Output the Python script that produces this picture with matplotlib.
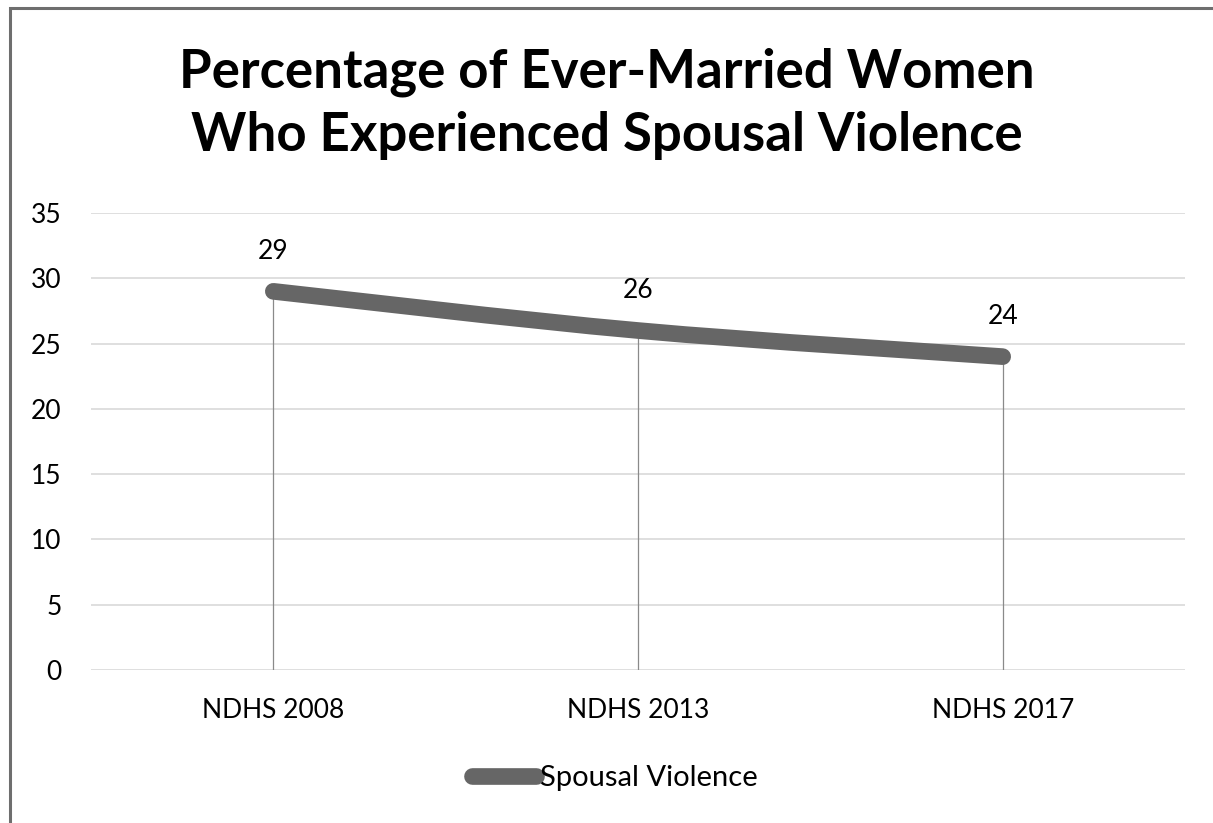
import matplotlib
matplotlib.use("Agg")
import matplotlib.pyplot as plt
from matplotlib.path import Path
from matplotlib.patches import PathPatch, Rectangle
from matplotlib.lines import Line2D
import numpy as np

categories = ["NDHS 2008", "NDHS 2013", "NDHS 2017"]
values = [29, 26, 24]
series_name = "Spousal Violence"
title = "Percentage of Ever-Married Women\nWho Experienced Spousal Violence"
yticks = [0, 5, 10, 15, 20, 25, 30, 35]

W, H = 1213, 823
fig = plt.figure(figsize=(W / 100, H / 100), dpi=100)
fig.patch.set_facecolor("white")
plt.rcParams['font.family'] = ['Lato', 'DejaVu Sans']

# chart border (only top and left visible)
fig.add_artist(Rectangle((9.5 / W, -0.05), 1.2, 1 - 7.5 / H + 0.05, transform=fig.transFigure,
                         fill=False, edgecolor="#6e6e6e", linewidth=2.2))

ax = fig.add_axes([91 / W, 1 - 670 / H, (1185 - 91) / W, (670 - 213) / H])
x = np.arange(len(categories))
ax.set_xlim(-0.5, len(categories) - 0.5)
ax.set_ylim(0, 35)
ax.set_yticks(yticks)
ax.set_xticks(x)
ax.set_xticklabels(categories, fontsize=19)
ax.tick_params(axis='y', labelsize=19, length=0, pad=21)
ax.tick_params(axis='x', length=0, pad=20)
for s in ax.spines.values():
    s.set_visible(False)
ax.grid(axis='y', color="#d9d9d9", linewidth=1.2)
ax.set_axisbelow(True)

# drop lines
for xi, v in zip(x, values):
    ax.plot([xi, xi], [0, v], color="#8a8a8a", linewidth=0.9, zorder=2)

# smoothed line (Catmull-Rom style bezier through data points)
pts = np.column_stack([x, values]).astype(float)
verts = [tuple(pts[0])]
codes = [Path.MOVETO]
t = 1 / 6
for i in range(len(pts) - 1):
    p0 = pts[i - 1] if i > 0 else pts[i]
    p1 = pts[i]
    p2 = pts[i + 1]
    p3 = pts[i + 2] if i + 2 < len(pts) else pts[i + 1]
    c1 = p1 + (p2 - p0) * t
    c2 = p2 - (p3 - p1) * t
    verts += [tuple(c1), tuple(c2), tuple(p2)]
    codes += [Path.CURVE4] * 3
patch = PathPatch(Path(verts, codes), facecolor="none", edgecolor="#666666",
                  linewidth=12, capstyle="round", joinstyle="round", zorder=3)
ax.add_patch(patch)

for xi, v in zip(x, values):
    ax.annotate(str(v), (xi, v), xytext=(0, 20), textcoords="offset points",
                ha="center", va="bottom", fontsize=19, color="black")

fig.text(0.5, 1 - 104 / H, title, ha="center", va="center", fontsize=38,
         fontweight="bold", linespacing=1.36)

handle = Line2D([], [], color="#666666", linewidth=12, solid_capstyle="round")
leg = fig.legend([handle], [series_name], loc="center", bbox_to_anchor=(0.507, 1 - 778 / H),
                 frameon=False, fontsize=21, handlelength=2.2, handletextpad=0.15)

fig.savefig("out.png", dpi=100)
